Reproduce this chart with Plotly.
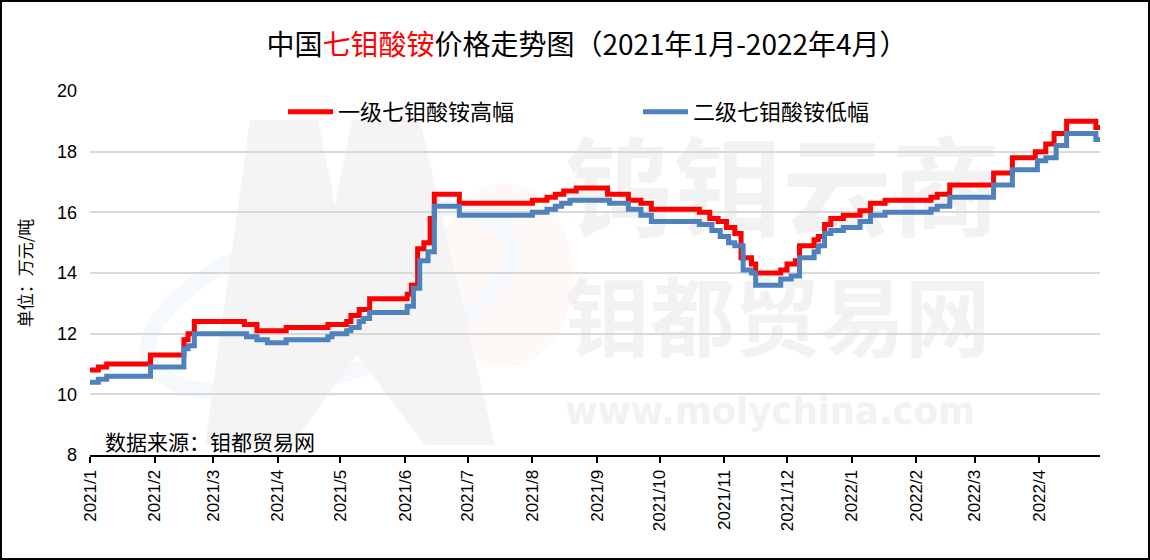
import base64
import plotly.graph_objects as go

# ---------------- data ----------------
grade1_dates = [
    "2021-01-01", "2021-01-05", "2021-01-09", "2021-01-30", "2021-02-15", "2021-02-17", "2021-02-20",
    "2021-03-16", "2021-03-22", "2021-04-05", "2021-04-25", "2021-05-04", "2021-05-06", "2021-05-10",
    "2021-05-15", "2021-06-02", "2021-06-04", "2021-06-07", "2021-06-10", "2021-06-13", "2021-06-15",
    "2021-06-27", "2021-08-01", "2021-08-08", "2021-08-12", "2021-08-16", "2021-08-22", "2021-09-06",
    "2021-09-16", "2021-09-22", "2021-09-27", "2021-10-20", "2021-10-25", "2021-10-29", "2021-11-02",
    "2021-11-06", "2021-11-09", "2021-11-14", "2021-11-16", "2021-11-28", "2021-12-01", "2021-12-05",
    "2021-12-07", "2021-12-14", "2021-12-16", "2021-12-19", "2021-12-22", "2021-12-28", "2022-01-05",
    "2022-01-10", "2022-01-17", "2022-02-08", "2022-02-11", "2022-02-17", "2022-03-10", "2022-03-19",
    "2022-03-30", "2022-04-04", "2022-04-08", "2022-04-14", "2022-04-28", "2022-04-30",
]
grade1_high = [
    10.8, 10.9, 11.0, 11.3, 11.8, 12.0, 12.4,
    12.3, 12.1, 12.2, 12.3, 12.4, 12.6, 12.8,
    13.15, 13.3, 13.6, 14.8, 15.0, 15.8, 16.6,
    16.3, 16.4, 16.5, 16.6, 16.7, 16.8, 16.6,
    16.4, 16.3, 16.1, 16.0, 15.8, 15.7, 15.5,
    15.3, 14.5, 14.3, 14.0, 14.1, 14.3, 14.4,
    14.9, 15.1, 15.2, 15.6, 15.8, 15.9, 16.05,
    16.3, 16.4, 16.5, 16.6, 16.9, 17.3, 17.8,
    18.0, 18.25, 18.6, 19.0, 18.8, 18.8,
]

grade2_dates = [
    "2021-01-01", "2021-01-05", "2021-01-09", "2021-01-30", "2021-02-15", "2021-02-17", "2021-02-20",
    "2021-03-17", "2021-03-22", "2021-03-27", "2021-04-05", "2021-04-25", "2021-04-27", "2021-05-04",
    "2021-05-06", "2021-05-10", "2021-05-12", "2021-05-15", "2021-06-02", "2021-06-05", "2021-06-08",
    "2021-06-12", "2021-06-15", "2021-06-27", "2021-08-01", "2021-08-08", "2021-08-12", "2021-08-15",
    "2021-08-19", "2021-09-07", "2021-09-16", "2021-09-22", "2021-09-27", "2021-10-20", "2021-10-26",
    "2021-10-30", "2021-11-03", "2021-11-06", "2021-11-10", "2021-11-14", "2021-11-16", "2021-11-28",
    "2021-12-03", "2021-12-07", "2021-12-14", "2021-12-16", "2021-12-19", "2021-12-22", "2021-12-28",
    "2022-01-05", "2022-01-10", "2022-01-17", "2022-02-08", "2022-02-11", "2022-02-17", "2022-03-10",
    "2022-03-19", "2022-03-31", "2022-04-04", "2022-04-09", "2022-04-14", "2022-04-28", "2022-04-30",
]
grade2_low = [
    10.4, 10.5, 10.6, 10.9, 11.5, 11.6, 12.0,
    11.9, 11.8, 11.7, 11.8, 11.9, 12.0, 12.1,
    12.2, 12.4, 12.5, 12.7, 12.9, 13.5, 14.4,
    14.7, 16.2, 15.9, 16.0, 16.1, 16.2, 16.3,
    16.4, 16.3, 16.1, 15.9, 15.7, 15.6, 15.4,
    15.2, 15.0, 14.9, 14.1, 14.0, 13.6, 13.8,
    13.9, 14.5, 14.7, 14.9, 15.3, 15.4, 15.5,
    15.7, 15.9, 16.0, 16.1, 16.2, 16.5, 16.9,
    17.4, 17.7, 17.8, 18.2, 18.6, 18.4, 18.4,
]

series_names = ["一级七钼酸铵高幅", "二级七钼酸铵低幅"]

tick_vals = [
    "2021-01-01", "2021-02-01", "2021-03-01", "2021-04-01", "2021-05-01", "2021-06-01",
    "2021-07-01", "2021-08-01", "2021-09-01", "2021-10-01", "2021-11-01", "2021-12-01",
    "2022-01-01", "2022-02-01", "2022-03-01", "2022-04-01",
]
tick_labels = [
    "2021/1", "2021/2", "2021/3", "2021/4", "2021/5", "2021/6", "2021/7", "2021/8",
    "2021/9", "2021/10", "2021/11", "2021/12", "2022/1", "2022/2", "2022/3", "2022/4",
]

# ---------------- layout geometry ----------------
W, H = 1150, 560
ML, MR, MT, MB = 90, 50, 91, 105
PW, PH = W - ML - MR, H - MT - MB

CJK = "Noto Sans CJK SC"

# faint watermark as an svg image beneath the grid
svg = f'''<svg xmlns="http://www.w3.org/2000/svg" width="{W}" height="{H}" viewBox="0 0 {W} {H}">
<ellipse cx="505" cy="275" rx="68" ry="92" fill="#fef8f6"/>
<ellipse cx="330" cy="300" rx="190" ry="75" transform="rotate(-18 330 300)" fill="none" stroke="#f5f8fc" stroke-width="16"/>
<path d="M205,445 L250,120 L318,120 L335,205 L352,120 L420,120 L495,445 L425,445 L357,355 L292,445 Z" fill="#f4f4f4"/>
<text x="565" y="228" textLength="435" lengthAdjust="spacingAndGlyphs" font-family="{CJK}" font-weight="bold" font-size="108" fill="#f2f2f2">钨钼云商</text>
<text x="565" y="350" textLength="425" lengthAdjust="spacingAndGlyphs" font-family="{CJK}" font-weight="bold" font-size="86" fill="#f2f2f2">钼都贸易网</text>
<text x="565" y="424" textLength="410" lengthAdjust="spacingAndGlyphs" font-family="DejaVu Sans" font-weight="bold" font-size="38" fill="#f2f2f2">www.molychina.com</text>
</svg>'''
svg_uri = "data:image/svg+xml;base64," + base64.b64encode(svg.encode("utf-8")).decode()

fig = go.Figure()
fig.add_trace(go.Scatter(
    x=grade1_dates, y=grade1_high, name=series_names[0], mode="lines",
    line=dict(color="#ff0000", width=5, shape="hv"), hoverinfo="x+y",
))
fig.add_trace(go.Scatter(
    x=grade2_dates, y=grade2_low, name=series_names[1], mode="lines",
    line=dict(color="#4f81bd", width=5, shape="hv"), hoverinfo="x+y",
))

fig.update_layout(
    width=W, height=H,
    margin=dict(l=ML, r=MR, t=MT, b=MB, pad=0),
    paper_bgcolor="white", plot_bgcolor="rgba(0,0,0,0)",
    font=dict(family=CJK, color="black"),
    title=dict(
        text="中国<span style='color:#ff0000'>七钼酸铵</span>价格走势图（2021年1月-2022年4月）",
        x=0.5 + 12 / W, xref="container", xanchor="center",
        y=1 - 45 / H, yref="container", yanchor="middle",
        font=dict(family=CJK, size=28, color="black"),
    ),
    showlegend=True,
    legend=dict(
        orientation="h", x=(283 - ML) / PW, xanchor="left", y=1.0, yanchor="top",
        font=dict(family=CJK, size=22, color="black"),
        bgcolor="rgba(0,0,0,0)", itemwidth=45, entrywidth=295, entrywidthmode="pixels",
    ),
    xaxis=dict(
        type="date", range=["2021-01-01", "2022-04-30"],
        tickmode="array", tickvals=tick_vals, ticktext=tick_labels,
        tickangle=-90, tickfont=dict(family="Liberation Sans", size=17, color="black"),
        showgrid=False, zeroline=False,
        showline=True, linecolor="black", linewidth=2,
        ticks="outside", ticklen=6, tickwidth=2, tickcolor="black",
    ),
    yaxis=dict(
        range=[8, 20], dtick=2, tick0=8,
        tickfont=dict(family="Liberation Sans", size=18, color="black"),
        ticklabelstandoff=12,
        showgrid=True, gridcolor="#d9d9d9", gridwidth=2,
        zeroline=False, showline=False, ticks="",
        title=dict(text="单位：万元/吨", font=dict(family=CJK, size=17, color="black"), standoff=20),
    ),
    images=[dict(
        source=svg_uri, xref="paper", yref="paper",
        x=-ML / PW, y=1 + MT / PH, sizex=W / PW, sizey=H / PH,
        xanchor="left", yanchor="top", sizing="stretch", layer="below",
    )],
    annotations=[dict(
        text="数据来源：钼都贸易网", xref="paper", yref="paper",
        x=(103 - ML) / PW, y=(MB - 91) / PH, xanchor="left", yanchor="middle",
        showarrow=False, font=dict(family=CJK, size=21, color="black"),
    )],
    shapes=[dict(
        type="rect", xref="paper", yref="paper",
        x0=(1 - ML) / PW, x1=(W - 1 - ML) / PW,
        y0=-(MB - 1) / PH, y1=1 + (MT - 1) / PH,
        line=dict(color="black", width=2), fillcolor="rgba(0,0,0,0)", layer="above",
    )],
)

fig.write_html("out.html")
